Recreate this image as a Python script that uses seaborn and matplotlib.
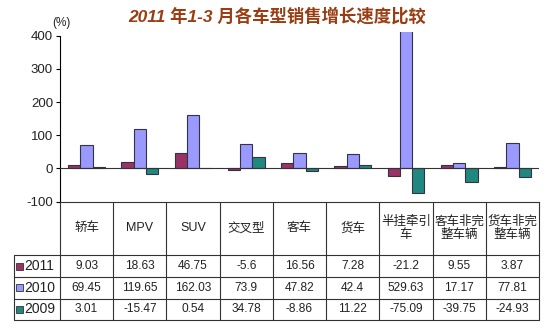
import matplotlib
matplotlib.use("Agg")
import matplotlib.pyplot as plt
import matplotlib.transforms as mtransforms
from matplotlib.patches import Rectangle
import seaborn as sns
import pandas as pd

# Vehicle categories and year-on-year sales growth (%) for Jan-Mar
categories = ["轿车", "MPV", "SUV", "交叉型", "客车", "货车", "半挂牵引车", "客车非完整车辆", "货车非完整车辆"]
header_labels = ["轿车", "MPV", "SUV", "交叉型", "客车", "货车", "半挂牵引\n车", "客车非完\n整车辆", "货车非完\n整车辆"]
years = ["2011", "2010", "2009"]
growth_2011 = [9.03, 18.63, 46.75, -5.6, 16.56, 7.28, -21.2, 9.55, 3.87]
growth_2010 = [69.45, 119.65, 162.03, 73.9, 47.82, 42.4, 529.63, 17.17, 77.81]
growth_2009 = [3.01, -15.47, 0.54, 34.78, -8.86, 11.22, -75.09, -39.75, -24.93]
year_colors = ["#993366", "#9999FF", "#21887F"]

series = {"2011": growth_2011, "2010": growth_2010, "2009": growth_2009}
df = pd.DataFrame(
    [(c, y, v) for y in years for c, v in zip(categories, series[y])],
    columns=["车型", "年份", "增长"],
)

sns.set_theme(style="white")
plt.rcParams["font.family"] = ["Liberation Sans", "Noto Sans CJK SC", "DejaVu Sans"]
plt.rcParams["axes.unicode_minus"] = False

W, H = 550, 332
fig = plt.figure(figsize=(W / 100, H / 100), dpi=100)
fig.patch.set_facecolor("white")

ax_left, ax_right = 60, 539
ax_bottom, ax_top = 201.7, 31.7
ax = fig.add_axes([ax_left / W, 1 - ax_bottom / H, (ax_right - ax_left) / W, (ax_bottom - ax_top) / H])

sns.barplot(
    data=df, x="车型", y="增长", hue="年份", hue_order=years, order=categories,
    palette=year_colors, width=0.69, gap=0, edgecolor="#333344", linewidth=0.8,
    legend=False, ax=ax, saturation=1,
)

ax.set_xlim(-0.5, len(categories) - 0.5)
ax.set_ylim(-100, 412)
ax.set_yticks([-100, 0, 100, 200, 300, 400])
ax.tick_params(axis="y", labelsize=9.5, length=3, width=0.8, direction="out", left=True, pad=2, colors="black")
for t in ax.get_yticklabels():
    t.set_color("#222222")
ax.set_xticks([])
ax.set_xlabel("")
ax.set_ylabel("")
for s in ["top", "right"]:
    ax.spines[s].set_visible(False)
ax.spines["left"].set_bounds(-100, 400)
ax.spines["left"].set_color("black")
ax.spines["left"].set_linewidth(0.8)
ax.spines["bottom"].set_color("#333333")
ax.spines["bottom"].set_linewidth(0.8)
ax.axhline(0, color="#333333", lw=0.8, zorder=5)

ax.text(-0.64, 1.015, "(%)", transform=mtransforms.blended_transform_factory(ax.transData, ax.transAxes),
        fontsize=8.5, ha="left", va="bottom", color="#222222")

fig.text(277 / W, 1 - 16 / H, "2011 年1-3 月各车型销售增长速度比较", ha="center", va="center",
         fontsize=12.5, fontweight="bold", fontstyle="italic", color="#9A3D12")

# Data table under the chart
tr = mtransforms.blended_transform_factory(ax.transData, fig.transFigure)
def fy(p):
    return 1 - p / H

line_kw = dict(color="#333333", lw=0.8, transform=tr, clip_on=False)
n = len(categories)
row_edges = [201.7, 255, 277, 298.6, 320]
head_left = -0.5 - (ax_left - 14) / ((ax_right - ax_left) / n)

for k in range(n + 1):
    x = k - 0.5
    fig.add_artist(plt.Line2D([x, x], [fy(row_edges[0]), fy(row_edges[-1])], **line_kw))
fig.add_artist(plt.Line2D([head_left, head_left], [fy(row_edges[1]), fy(row_edges[-1])], **line_kw))
for i, yp in enumerate(row_edges[1:]):
    fig.add_artist(plt.Line2D([head_left, n - 0.5], [fy(yp), fy(yp)], **line_kw))

head_y = (row_edges[0] + row_edges[1]) / 2
for k, lab in enumerate(header_labels):
    fig.text(k, fy(head_y), lab, transform=tr, ha="center", va="center", fontsize=9,
             linespacing=1.1, color="#222222")

for r, y in enumerate(years):
    yc = (row_edges[r + 1] + row_edges[r + 2]) / 2
    for k, v in enumerate(series[y]):
        fig.text(k, fy(yc), f"{v:g}", transform=tr, ha="center", va="center", fontsize=8.6, color="#222222")
    fig.add_artist(Rectangle((16 / W, fy(yc + 3.5)), 6.5 / W, 7 / H, transform=fig.transFigure,
                             facecolor=year_colors[r], edgecolor="#333333", lw=0.6))
    fig.text(24.5 / W, fy(yc), y, ha="left", va="center", fontsize=10, color="#222222")

fig.savefig("out.png", dpi=100, facecolor="white")
